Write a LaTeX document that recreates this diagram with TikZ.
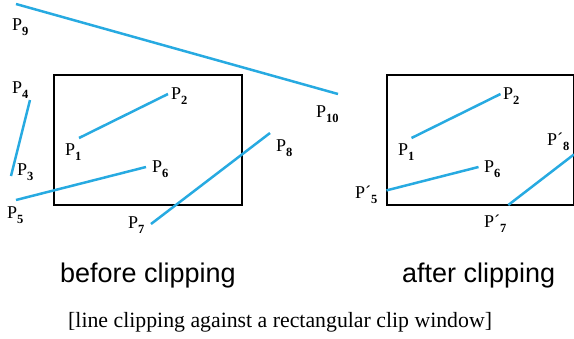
\documentclass[tikz,border=0pt]{standalone}
\usepackage{fontspec}
\setmainfont{Liberation Serif}
\newfontfamily\capfont{Liberation Sans}
\usetikzlibrary{positioning}
\definecolor{segblue}{RGB}{39,170,225}
\newcommand\Plab[2][]{P#1\raisebox{-5pt}{\fontsize{12.5}{12.5}\selectfont\bfseries #2}}

\begin{document}
\begin{tikzpicture}[x=1pt, y=-1pt,
  seg/.style={draw=segblue, line width=2.5pt},
  win/.style={draw, line width=2pt},
  lbl/.style={anchor=base west, inner sep=0pt, font=\fontsize{18}{20}\selectfont},
  title/.style={anchor=base west, inner sep=0pt, font=\capfont\fontsize{27}{29}\selectfont},
  note/.style={anchor=base west, inner sep=0pt, font=\fontsize{21.8}{24}\selectfont}
]
\useasboundingbox (0,0) rectangle (574,338);

% before clipping
\draw[win] (54,75) rectangle (242,205);
\coordinate (b1) at (79,138);
\coordinate (b2) at (168,94);
\coordinate (b3) at (11,176);
\coordinate (b4) at (30,100);
\coordinate (b5) at (16,200);
\coordinate (b6) at (146,167);
\coordinate (b7) at (151,224);
\coordinate (b8) at (270,133);
\coordinate (b9) at (16,4);
\coordinate (b10) at (338,94);
\draw[seg] (b1) -- (b2);
\draw[seg] (b3) -- (b4);
\draw[seg] (b5) -- (b6);
\draw[seg] (b7) -- (b8);
\draw[seg] (b9) -- (b10);

\node[lbl] (lb1) at (65,155) {\Plab{1}};
\node[lbl] (lb2) at (171,99) {\Plab{2}};
\node[lbl] (lb3) at (17,175) {\Plab{3}};
\node[lbl] (lb4) at (12,93) {\Plab{4}};
\node[lbl] (lb5) at (7,218) {\Plab{5}};
\node[lbl] (lb6) at (152,172) {\Plab{6}};
\node[lbl] (lb7) at (128,228) {\Plab{7}};
\node[lbl] (lb8) at (276,151) {\Plab{8}};
\node[lbl] (lb9) at (12,30) {\Plab{9}};
\node[lbl] (lb10) at (316,117) {\Plab{10}};

% after clipping
\draw[win] (386.5,75) rectangle (574,205);
\coordinate (a1) at (411.5,138);
\coordinate (a2) at (500.5,94);
\coordinate (a5) at (386.5,190.4);
\coordinate (a6) at (478.5,167);
\coordinate (a7) at (508.3,205);
\coordinate (a8) at (574,154.4);
\draw[seg] (a1) -- (a2);
\draw[seg] (a5) -- (a6);
\draw[seg] (a7) -- (a8);

\node[lbl] (la1) at (398,155) {\Plab{1}};
\node[lbl] (la2) at (503,99) {\Plab{2}};
\node[lbl] (la5) at (355,198) {\Plab[´]{5}};
\node[lbl] (la6) at (484,172) {\Plab{6}};
\node[lbl] (la7) at (484,227) {\Plab[´]{7}};
\node[lbl] (la8) at (547,145) {\Plab[´]{8}};

% captions
\node[title] (before) at (60,282) {before clipping};
\node[title] (after) at (402,282) {after clipping};
\node[note] (caption) at (68,327) {[line clipping against a rectangular clip window]};
\end{tikzpicture}
\end{document}
